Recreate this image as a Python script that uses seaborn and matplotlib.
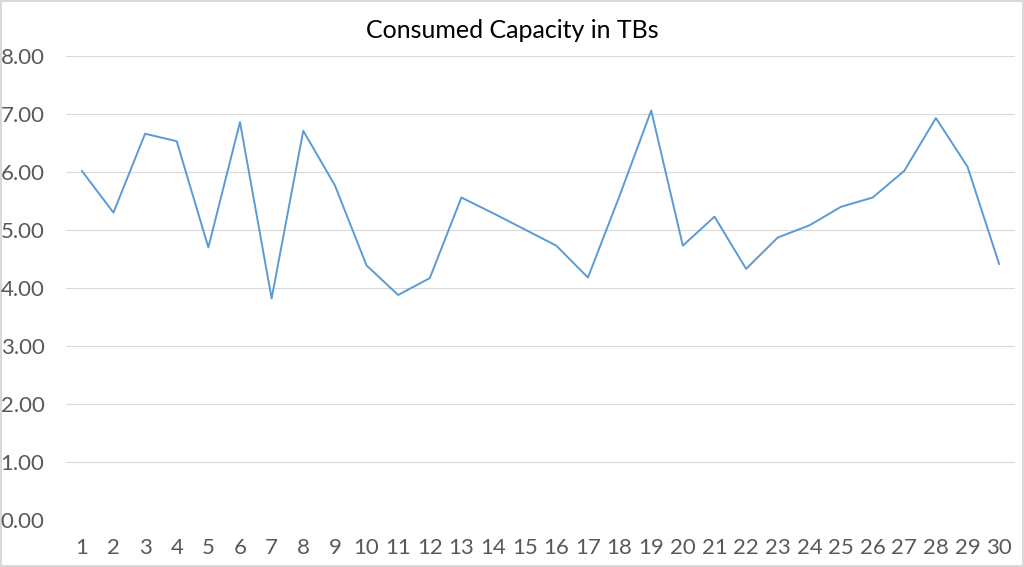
import matplotlib
matplotlib.use("Agg")
import matplotlib.pyplot as plt
import seaborn as sns
import pandas as pd

days = list(range(1, 31))
capacity_tb = [6.02, 5.30, 6.66, 6.53, 4.70, 6.86, 3.82, 6.71, 5.77, 4.39,
               3.88, 4.17, 5.56, 5.29, 5.01, 4.73, 4.18, 5.59, 7.06, 4.73,
               5.23, 4.33, 4.87, 5.08, 5.40, 5.56, 6.02, 6.93, 6.09, 4.41]
y_ticks = [0, 1, 2, 3, 4, 5, 6, 7, 8]
title = "Consumed Capacity in TBs"

sns.set_theme(style="white")
plt.rcParams['font.family'] = ['Lato', 'DejaVu Sans']

df = pd.DataFrame({"day": days, "tb": capacity_tb})

fig = plt.figure(figsize=(10.24, 5.67), dpi=100)
fig.patch.set_edgecolor("#D9D9D9")
fig.patch.set_linewidth(1.5)
ax = fig.add_axes([66/1024, 1 - 520/567, (1015 - 66)/1024, (520 - 56)/567])

sns.lineplot(data=df, x="day", y="tb", ax=ax, color="#5B9BD5", linewidth=1.4)

ax.set_xlim(0.5, 30.5)
ax.set_ylim(0, 8)
ax.set_yticks(y_ticks)
ax.set_yticklabels([f"{v:.2f}" for v in y_ticks])
ax.set_xticks(days)
ax.set_xticklabels([str(d) for d in days])
ax.grid(axis="y", color="#D9D9D9", linewidth=0.8)
ax.set_axisbelow(True)
for s in ax.spines.values():
    s.set_visible(False)
ax.tick_params(axis="both", length=0, labelsize=16, labelcolor="#595959")
ax.tick_params(axis="y", pad=15.5)
ax.tick_params(axis="x", pad=13)
ax.set_xlabel("")
ax.set_ylabel("")
fig.text(0.5, 1 - 30/567, title, ha="center", va="center", fontsize=18, color="black")

fig.savefig("out.png", dpi=100, edgecolor=fig.get_edgecolor())
